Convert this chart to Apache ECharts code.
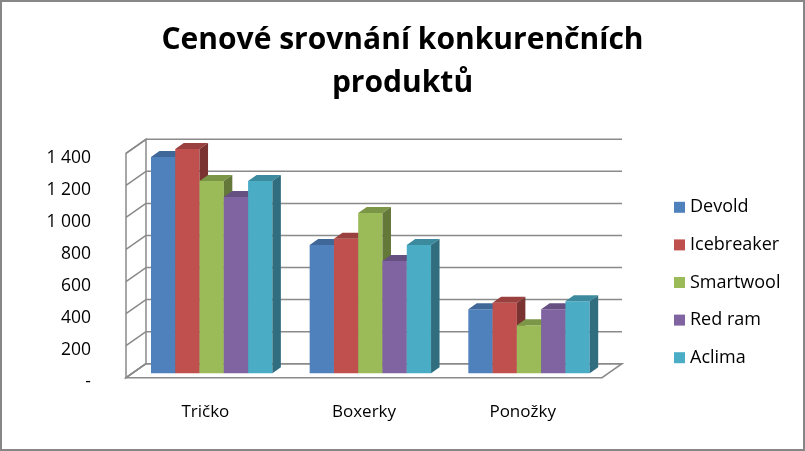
<!DOCTYPE html>
<html>
<head>
<meta charset="utf-8">
<script src="https://cdn.jsdelivr.net/npm/echarts@6/dist/echarts.min.js"></script>
<style>
html, body { margin: 0; padding: 0; background: #fff; }
#chart { width: 805px; height: 451px; }
</style>
</head>
<body>
<div id="chart"></div>
<script>
// data
var categories = ['Tričko', 'Boxerky', 'Ponožky'];
var brands = ['Devold', 'Icebreaker', 'Smartwool', 'Red ram', 'Aclima'];
var devold = [1350, 800, 400];
var icebreaker = [1400, 840, 440];
var smartwool = [1200, 1000, 300];
var redRam = [1100, 700, 400];
var aclima = [1200, 800, 450];
var yTicks = [0, 200, 400, 600, 800, 1000, 1200, 1400];

var values = [devold, icebreaker, smartwool, redRam, aclima];
var colors = ['#4F81BD', '#C0504D', '#9BBB59', '#8064A2', '#4BACC6'];
var FONT = '"Open Sans", sans-serif';
var DX = 20, DY = -14;      // depth of the floor
var BDX = 8.5, BDY = -6;    // depth of a bar

var chart = echarts.init(document.getElementById('chart'));

function shade(hex, f) {
  var n = parseInt(hex.slice(1), 16);
  var r = Math.round(((n >> 16) & 255) * f);
  var g = Math.round(((n >> 8) & 255) * f);
  var b = Math.round((n & 255) * f);
  return 'rgb(' + r + ',' + g + ',' + b + ')';
}

function lineStyle() {
  return { stroke: '#8a8a8a', lineWidth: 1.5, fill: null };
}

// walls, floor and grid lines
function renderWalls(params, api) {
  var cs = params.coordSys;
  var v = api.value(0);
  var y = api.coord([0, v])[1];
  var x0 = cs.x, x1 = cs.x + cs.width;
  var kids = [
    { type: 'line', shape: { x1: x0, y1: y, x2: x0 + DX, y2: y + DY }, style: lineStyle() },
    { type: 'line', shape: { x1: x0 + DX, y1: y + DY, x2: x1 + DX, y2: y + DY }, style: lineStyle() }
  ];
  if (params.dataIndex === 0) {
    var yb = y, yt = cs.y;
    kids.push({ type: 'polygon', shape: { points: [[x0, yb], [x1, yb], [x1 + DX, yb + DY], [x0 + DX, yb + DY]] }, style: lineStyle() });
    kids.push({ type: 'polygon', shape: { points: [[x0, yt], [x0 + DX, yt + DY], [x0 + DX, yb + DY], [x0, yb]] }, style: lineStyle() });
  }
  return { type: 'group', children: kids };
}

function makeBar(k) {
  var c = colors[k];
  var topC = shade(c, 0.8);
  var sideC = shade(c, 0.64);
  return function (params, api) {
    var cat = api.value(0), val = api.value(1);
    var base = api.coord([cat, 0]);
    var top = api.coord([cat, val]);
    var cw = api.size([1, 0])[0];
    var bw = cw * 0.153;
    var x0 = base[0] - 2.5 * bw + k * bw + cw * 0.04;
    var yb = base[1] - 4.4, yt = top[1] - 4.4;
    return {
      type: 'group',
      children: [
        { type: 'rect', shape: { x: x0, y: yt, width: bw, height: yb - yt }, style: { fill: c } },
        { type: 'polygon', shape: { points: [[x0, yt], [x0 + BDX, yt + BDY], [x0 + bw + BDX, yt + BDY], [x0 + bw, yt]] }, style: { fill: topC } },
        { type: 'polygon', shape: { points: [[x0 + bw, yt], [x0 + bw + BDX, yt + BDY], [x0 + bw + BDX, yb + BDY], [x0 + bw, yb]] }, style: { fill: sideC } }
      ]
    };
  };
}

var series = [{
  type: 'custom',
  name: 'walls',
  renderItem: renderWalls,
  data: yTicks.map(function (v) { return [v]; }),
  encode: { y: 0 },
  silent: true,
  z: 1
}];
brands.forEach(function (b, k) {
  series.push({
    type: 'custom',
    name: b,
    renderItem: makeBar(k),
    itemStyle: { color: colors[k] },
    data: values[k].map(function (v, j) { return [j, v]; }),
    encode: { x: 0, y: 1 },
    z: 2
  });
});

var option = {
  animation: false,
  title: {
    text: 'Cenové srovnání konkurenčních\nproduktů',
    left: 'center',
    top: 14,
    textStyle: { fontFamily: FONT, fontSize: 30, fontWeight: 'bold', color: '#000', lineHeight: 43 }
  },
  legend: {
    data: brands,
    orient: 'vertical',
    left: 669,
    top: 192,
    icon: 'rect',
    itemWidth: 11,
    itemHeight: 11,
    itemGap: 17,
    textStyle: { fontFamily: FONT, fontSize: 18, color: '#000', lineHeight: 20.6 }
  },
  grid: { left: 126, right: 203, top: 153.3, bottom: 73.3 },
  xAxis: {
    type: 'category',
    data: categories,
    axisLine: { show: false },
    axisTick: { show: false },
    axisLabel: { margin: 26, fontFamily: FONT, fontSize: 17, color: '#000' }
  },
  yAxis: {
    type: 'value',
    min: 0,
    max: 1400,
    interval: 200,
    axisLine: { show: false },
    axisTick: { show: false },
    splitLine: { show: false },
    axisLabel: {
      margin: 35,
      fontFamily: FONT,
      fontSize: 17.5,
      color: '#000',
      formatter: function (v) {
        var s = v === 0 ? '-' : String(v).replace(/\B(?=(\d{3})+(?!\d))/g, ' ');
        return '{t|' + s + '}';
      },
      rich: {
        t: { fontFamily: FONT, fontSize: 17.5, color: '#000', padding: [9, 0, 0, 0] }
      }
    }
  },
  graphic: [{
    type: 'rect',
    shape: { x: 1, y: 1, width: 803, height: 449 },
    style: { stroke: '#878787', lineWidth: 2, fill: null },
    silent: true
  }],
  series: series
};
chart.setOption(option);
</script>
</body>
</html>
